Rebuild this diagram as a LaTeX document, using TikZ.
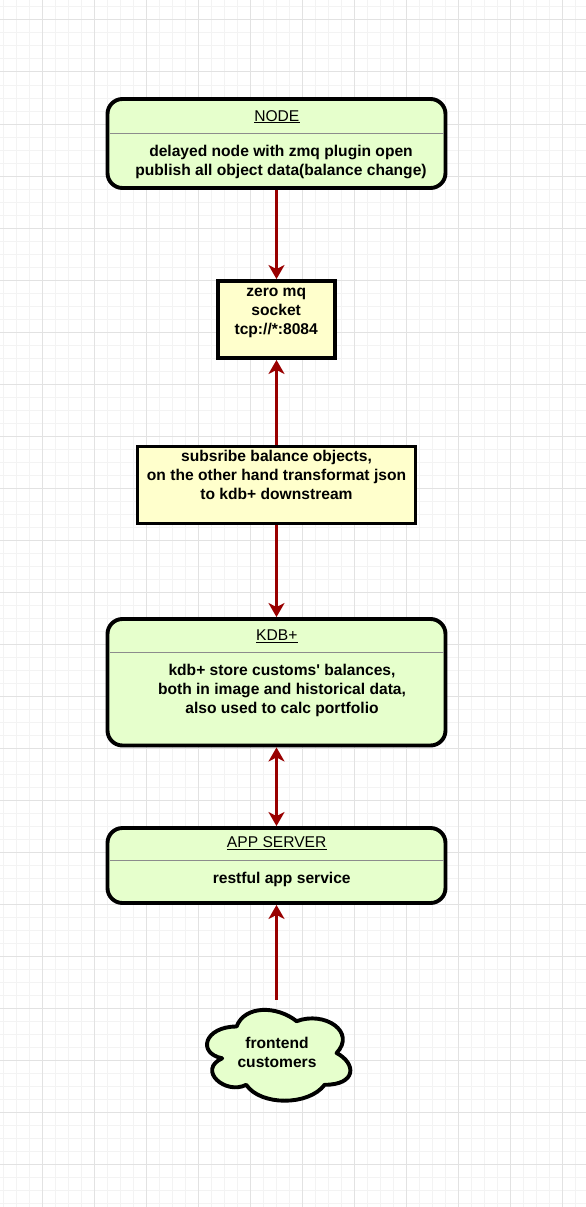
\documentclass[tikz,border=0pt]{standalone}
\usepackage{fontspec}
\setmainfont{Liberation Sans}
\usetikzlibrary{arrows.meta}
\definecolor{boxgreen}{HTML}{E6FFCC}
\definecolor{boxyellow}{HTML}{FFFFCC}
\definecolor{arrowred}{HTML}{990000}
\definecolor{gridmajor}{HTML}{E2E2E2}
\definecolor{gridminor}{HTML}{F3F3F3}
\definecolor{sepgray}{HTML}{8C8C8C}
\newcommand{\bodyfont}{\fontsize{15.6pt}{19pt}\selectfont\bfseries}
\newcommand{\titlefont}{\fontsize{15.6pt}{19pt}\selectfont}
\begin{document}
\begin{tikzpicture}[x=1pt,y=-1pt,
  roundbox/.style={draw=black, line width=3.9pt, fill=boxgreen, rounded corners=15pt, minimum width=338pt, inner sep=0pt},
  sqbox/.style={draw=black, line width=3.9pt, fill=boxyellow, inner sep=0pt},
  body/.style={font=\bodyfont, align=center, inner sep=0pt, text=black},
  titletext/.style={font=\titlefont, inner sep=0pt, anchor=base, text=black},
  uline/.style={draw=black, line width=1.2pt},
  sepline/.style={draw=sepgray, line width=1.3pt},
  conn/.style={draw=arrowred, line width=2.3pt, -{Stealth[length=14pt,width=16pt,inset=4pt]}},
  biconn/.style={draw=arrowred, line width=2.3pt, {Stealth[length=14pt,width=16pt,inset=4pt]}-{Stealth[length=14pt,width=16pt,inset=4pt]}},
  cloudstyle/.style={draw=black, line width=3.9pt, fill=boxgreen, line join=round},
  minorgrid/.style={draw=gridminor, line width=1pt},
  majorgrid/.style={draw=gridmajor, line width=1pt}
]
\useasboundingbox (0,0) rectangle (586,1207);
\fill[white] (0,0) rectangle (586,1207);
% grid
\foreach \i in {0,...,44} {\draw[minorgrid] ({3.7+13*\i},0) -- ({3.7+13*\i},1207);}
\foreach \i in {0,...,92} {\draw[minorgrid] (0,{7+13*\i}) -- (586,{7+13*\i});}
\foreach \i in {0,...,10} {\draw[majorgrid] ({42.7+52*\i},0) -- ({42.7+52*\i},1207);}
\foreach \i in {0,...,23} {\draw[majorgrid] (0,{20+52*\i}) -- (586,{20+52*\i});}

% NODE
\node[roundbox, minimum height=89pt] (node) at (276.5,143.5) {};
\node[titletext] (nodetitle) at (276.8,121) {NODE};
\draw[uline] ([yshift=-1.8pt]nodetitle.base west) -- ([yshift=-1.8pt]nodetitle.base east);
\draw[sepline] (109.5,133.3) -- (443.5,133.3);
\node[body] (nodebody) at (281,162.4) {\strut delayed node with zmq plugin open\\\strut publish all object data(balance change)};

% zero mq
\node[sqbox, minimum width=117pt, minimum height=77pt] (zmq) at (276.5,319.5) {};
\node[body] (zmqtext) at (276.2,311.5) {\strut zero mq\\\strut socket\\\strut tcp://*:8084};

% subscriber
\node[sqbox, minimum width=278pt, minimum height=77pt] (sub) at (276.5,485) {};
\node[body] (subtext) at (276.5,477) {\strut subsribe balance objects,\\\strut on the other hand transformat json\\\strut to kdb+ downstream};

% KDB+
\node[roundbox, minimum height=126.5pt] (kdb) at (276.5,682.25) {};
\node[titletext] (kdbtitle) at (276.8,640.7) {KDB+};
\draw[uline] ([yshift=-1.8pt]kdbtitle.base west) -- ([yshift=-1.8pt]kdbtitle.base east);
\draw[sepline] (109.5,652.7) -- (443.5,652.7);
\node[body] (kdbbody) at (282,690.8) {\strut kdb+ store customs\textquotesingle\ balances,\\\strut both in image and historical data,\\\strut also used to calc portfolio};

% APP SERVER
\node[roundbox, minimum height=75pt] (app) at (276.5,865.5) {};
\node[titletext] (apptitle) at (276.7,847.5) {APP SERVER};
\draw[uline] ([yshift=-1.8pt]apptitle.base west) -- ([yshift=-1.8pt]apptitle.base east);
\draw[sepline] (109.5,860.7) -- (443.5,860.7);
\node[body] (appbody) at (281.7,879.5) {\strut restful app service};

% cloud
\begin{scope}[shift={(196.6pt,-1000pt)}, x=160pt, y=-106pt]
\draw[cloudstyle] (0.25,0.25) .. controls (0.05,0.25) and (0,0.5) .. (0.16,0.55)
  .. controls (0,0.66) and (0.18,0.9) .. (0.31,0.8)
  .. controls (0.4,1) and (0.7,1) .. (0.8,0.8)
  .. controls (1,0.8) and (1,0.6) .. (0.875,0.5)
  .. controls (1,0.3) and (0.8,0.1) .. (0.625,0.2)
  .. controls (0.5,0.05) and (0.3,0.05) .. (0.25,0.25) -- cycle;
\end{scope}
\node[body] (cloudtext) at (277,1054.5) {\strut frontend\\\strut customers};
\coordinate (cloudtop) at (276.5,1000);

% connectors
\draw[conn] (node.south) -- (zmq.north);
\draw[conn] (sub.north) -- (zmq.south);
\draw[conn] (sub.south) -- (kdb.north);
\draw[biconn] (kdb.south) -- (app.north);
\draw[conn] (cloudtop) -- (app.south);
\end{tikzpicture}
\end{document}
